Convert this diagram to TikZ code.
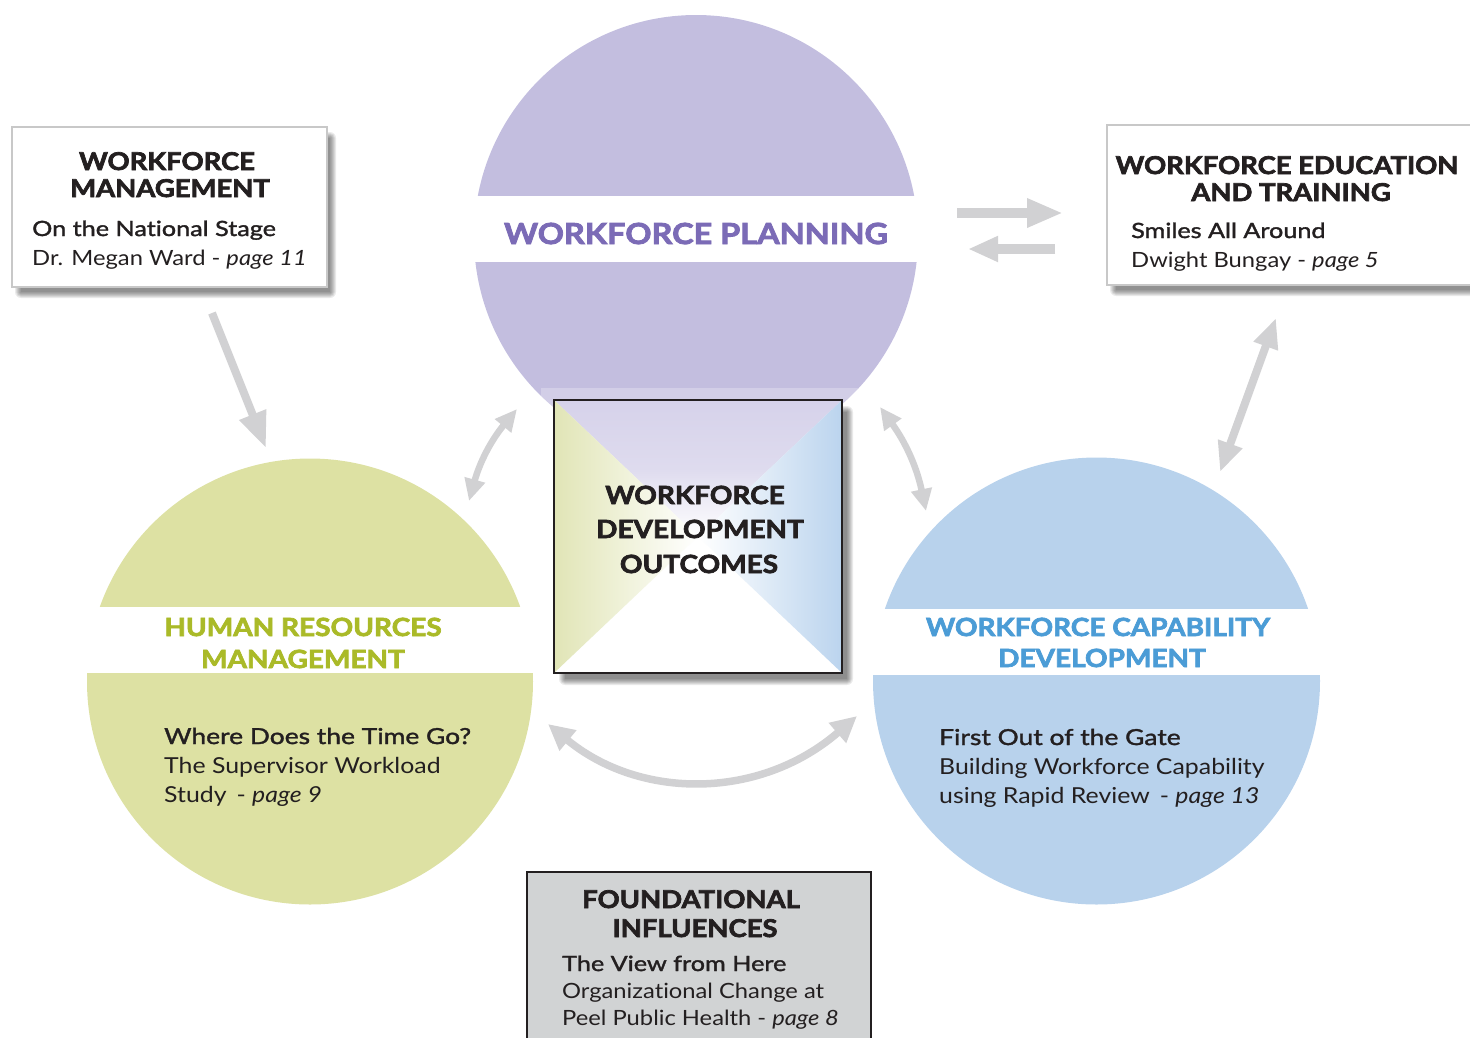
\documentclass[tikz,border=0pt]{standalone}
\usepackage{fontspec}
\setmainfont{Lato}[FakeStretch=1.13, Ligatures=NoCommon]
\newfontfamily\semib{Lato}[FakeStretch=1.2, FakeBold=1.6, Ligatures=NoCommon]
\newfontfamily\heavy{Lato}[FakeStretch=1.12, Ligatures=NoCommon, BoldFeatures={FakeBold=2.8}]
\usetikzlibrary{arrows.meta}

\definecolor{ink}{HTML}{231F20}
\definecolor{planfill}{HTML}{C3BEDF}
\definecolor{plantext}{HTML}{7B6BB6}
\definecolor{hrfill}{HTML}{DDE1A3}
\definecolor{hrtext}{HTML}{AABA28}
\definecolor{capfill}{HTML}{B8D2EC}
\definecolor{captext}{HTML}{4B9CD6}
\definecolor{sqpurple}{HTML}{D6D2EA}
\definecolor{sqgreen}{HTML}{E1E5B6}
\definecolor{sqblue}{HTML}{BBD4EE}
\definecolor{arrowgray}{HTML}{D1D1D3}
\definecolor{boxedge}{HTML}{C8C8C8}
\definecolor{basefill}{HTML}{D1D3D4}

% soft shadow: corners, then x/y offset
\newcommand{\boxshadow}[6]{%
  \foreach \k in {0,...,6}{%
    \fill[black, fill opacity=0.08, rounded corners=\k pt]
      ({#1+#5-\k+3},{#2+#6-\k+3}) rectangle ({#3+#5+\k-3},{#4+#6+\k-3});
  }%
}

\tikzset{
  circ/.style={circle, inner sep=0pt, minimum size=#1, draw=none},
  hd/.style={font=\heavy\bfseries\fontsize{24.5}{27}\selectfont, text=ink, inner sep=0pt, anchor=base},
  subl/.style={font=\semib\fontsize{21}{26}\selectfont, text=ink, inner sep=0pt, anchor=base west},
  bodyl/.style={font=\fontsize{21}{26}\selectfont, text=ink, inner sep=0pt, anchor=base west},
  clabel/.style={font=\heavy\bfseries\fontsize{25}{30}\selectfont, inner sep=0pt, anchor=base},
  csub/.style={font=\semib\fontsize{22}{28}\selectfont, text=ink, inner sep=0pt, anchor=base west},
  cbody/.style={font=\fontsize{22}{28}\selectfont, text=ink, inner sep=0pt, anchor=base west},
  garrow/.style={draw=arrowgray, line width=#1},
}

\begin{document}
\begin{tikzpicture}[x=1pt,y=-1pt]
\useasboundingbox (0,0) rectangle (1470,1037);
\clip (0,0) rectangle (1470,1037);

% --- the three circles with their white title bands
\node[circ=444pt, fill=planfill] (plan) at (696,237) {};
\fill[white] (465,196) rectangle (930,262);
\node[clabel, text=plantext, font=\heavy\bfseries\fontsize{29}{34}\selectfont] (planlbl) at (696,244) {WORKFORCE PLANNING};

\node[circ=446pt, fill=hrfill] (hr) at (310,681.5) {};
\fill[white] (80,607) rectangle (540,673);
\node[clabel, text=hrtext] (hrlbl1) at (303,636) {HUMAN RESOURCES};
\node[clabel, text=hrtext] (hrlbl2) at (303,668) {MANAGEMENT};
\node[csub]  (hrt1) at (164,744) {Where Does the Time Go?};
\node[cbody] (hrt2) at (164,773) {The Supervisor Workload};
\node[cbody] (hrt3) at (164,802) {Study\hspace{10pt}- \textit{page 9}};

\node[circ=447pt, fill=capfill] (cap) at (1096.5,681) {};
\fill[white] (866,609) rectangle (1328,675);
\node[clabel, text=captext] (caplbl1) at (1098,636) {WORKFORCE CAPABILITY};
\node[clabel, text=captext] (caplbl2) at (1102,667) {DEVELOPMENT};
\node[csub]  (capt1) at (939,745) {First Out of the Gate};
\node[cbody] (capt2) at (939,774) {Building Workforce Capability};
\node[cbody] (capt3) at (939,803) {using Rapid Review\hspace{10pt}- \textit{page 13}};

% --- pale panel behind the centre square
\fill[white, fill opacity=0.25] (541,388) rectangle (858,690);

% --- centre square: four shaded triangles
\boxshadow{554}{400}{842}{673}{8}{9}
\fill[white] (554,400) rectangle (842,673);
\coordinate (sqc) at (698,536.5);
\begin{scope}
  \clip (554,400) -- (842,400) -- (sqc) -- cycle;
  \shade[top color=sqpurple, bottom color=white, middle color=sqpurple!80!white] (554,400) rectangle (842,537);
\end{scope}
\begin{scope}
  \clip (554,400) -- (sqc) -- (554,673) -- cycle;
  \shade[left color=sqgreen, right color=white] (554,400) rectangle (698,673);
\end{scope}
\begin{scope}
  \clip (842,400) -- (sqc) -- (842,673) -- cycle;
  \shade[left color=white, right color=sqblue] (698,400) rectangle (842,673);
\end{scope}
\node[draw=ink, line width=2pt, minimum width=288pt, minimum height=273pt, inner sep=0pt] (dev) at (sqc) {};
\node[clabel, text=ink] (dev1) at (695,504) {WORKFORCE};
\node[clabel, text=ink] (dev2) at (700,538) {DEVELOPMENT};
\node[clabel, text=ink] (dev3) at (699,573) {OUTCOMES};

% --- top-left box
\boxshadow{12}{127}{327}{287}{6}{8}
\node[draw=boxedge, fill=white, line width=2.5pt, minimum width=315pt, minimum height=160pt, inner sep=0pt] (wm) at (169.5,207) {};
\node[hd] (wm1) at (167,170) {WORKFORCE};
\node[hd] (wm2) at (170,197) {MANAGEMENT};
\node[subl]  (wm3) at (32,236) {On the National Stage};
\node[bodyl] (wm4) at (32,265) {Dr. Megan Ward - \textit{page 11}};

% --- top-right box
\boxshadow{1107}{125}{1480}{285}{6}{8}
\node[draw=boxedge, fill=white, line width=2.5pt, minimum width=373pt, minimum height=160pt, inner sep=0pt] (wet) at (1293.5,205) {};
\node[hd] (wet1) at (1287,174) {WORKFORCE EDUCATION};
\node[hd] (wet2) at (1291,201) {AND TRAINING};
\node[subl]  (wet3) at (1131,238) {Smiles All Around};
\node[bodyl] (wet4) at (1131,267) {Dwight Bungay - \textit{page 5}};

% --- bottom box
\node[draw=ink, fill=basefill, line width=2.5pt, minimum width=344pt, minimum height=180pt, inner sep=0pt] (fi) at (699,962) {};
\node[hd] (fi1) at (691,908) {FOUNDATIONAL};
\node[hd] (fi2) at (695,937) {INFLUENCES};
\node[subl]  (fi3) at (562,971) {The View from Here};
\node[bodyl] (fi4) at (562,998) {Organizational Change at};
\node[bodyl] (fi5) at (562,1025) {Peel Public Health - \textit{page 8}};

% --- connectors
\coordinate (wmA) at (212,313);
\coordinate (wmB) at (266,448);
\draw[garrow=8pt, -{Triangle[length=36pt,width=27pt]}] (wmA) -- (wmB);

\coordinate (pwA) at (957,213);
\coordinate (pwB) at (1063,213);
\coordinate (wpA) at (1055,249);
\coordinate (wpB) at (968,249);
\draw[garrow=10pt, -{Triangle[length=36pt,width=27pt]}] (pwA) -- (pwB);
\draw[garrow=10pt, -{Triangle[length=30pt,width=24pt]}] (wpA) -- (wpB);

\coordinate (wcA) at (1276,318);
\coordinate (wcB) at (1220,472);
\draw[garrow=8pt, {Triangle[length=30pt,width=24pt]}-{Triangle[length=30pt,width=24pt]}] (wcA) -- (wcB);

\coordinate (phA) at (517,409);
\coordinate (phB) at (469,501);
\draw[garrow=6.5pt, {Triangle[length=22pt,width=20pt]}-{Triangle[length=22pt,width=20pt]}] (phA) to[bend right=12] (phB);

\coordinate (pcA) at (880,407);
\coordinate (pcB) at (926,511);
\draw[garrow=6.5pt, {Triangle[length=22pt,width=20pt]}-{Triangle[length=22pt,width=20pt]}] (pcA) to[bend left=12] (pcB);

\coordinate (hcA) at (548,724);
\coordinate (hcB) at (857,716);
\draw[garrow=7.5pt, {Triangle[length=26pt,width=25pt]}-{Triangle[length=26pt,width=25pt]}] (hcA) .. controls (640,800) and (760,800) .. (hcB);

\end{tikzpicture}
\end{document}
